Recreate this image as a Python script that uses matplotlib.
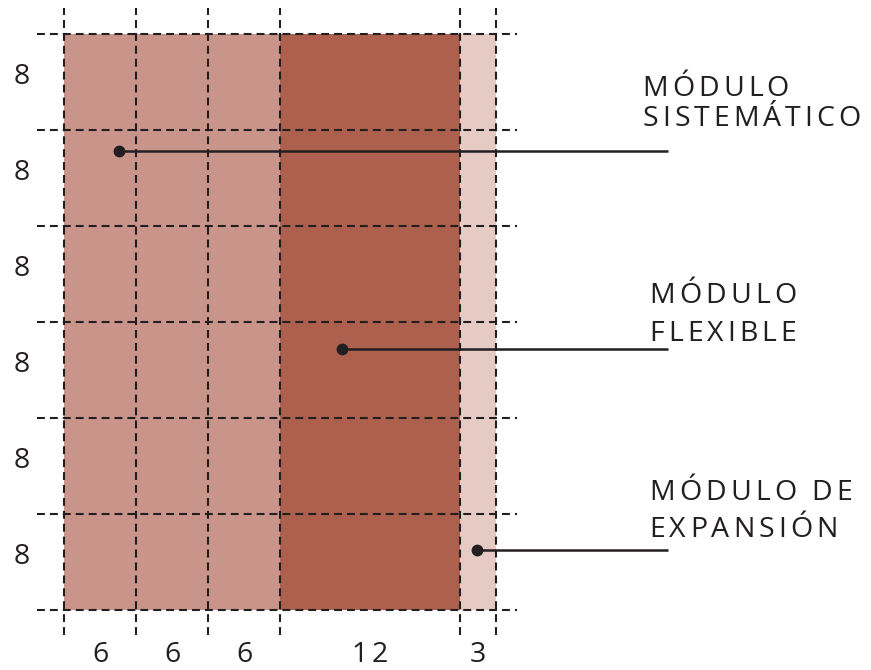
import matplotlib.pyplot as plt
from matplotlib.patches import Rectangle
from matplotlib.font_manager import FontProperties

# grid modules (units), 1 unit = 12 px on the sheet
col_labels = ['6', '6', '6', '12', '3']
col_widths = [6, 6, 6, 15, 3]      # drawn width; the 12 column is drawn wider
col_colors = ['#c9948a', '#c9948a', '#c9948a', '#ad604e', '#e6cbc5']
row_labels = ['8', '8', '8', '8', '8', '8']
row_heights = [8, 8, 8, 8, 8, 8]

# callouts: text lines, anchor dot (grid units)
callouts = [
    (['MÓDULO', 'SISTEMÁTICO'], (4.6, 38.25)),
    (['MÓDULO', 'FLEXIBLE'], (23.2, 21.75)),
    (['MÓDULO DE', 'EXPANSIÓN'], (34.4, 5.0)),
]
callout_text_x = [48.2, 48.8, 48.8]
callout_baselines = [(42.8, 40.3), (25.6, 22.45), (9.2, 6.1)]
callout_line_end = 50.35

FONT = 'Open Sans'
FSIZE = 20.5
TRACK = 4.0   # extra letter spacing, px
INK = '#231f20'

fig = plt.figure(figsize=(8.71, 6.70), dpi=100)
ax = fig.add_axes([0, 0, 1, 1])
ax.set_xlim(-64 / 12, (871 - 64) / 12)
ax.set_ylim(-60 / 12, 610 / 12)
ax.set_axis_off()

renderer = fig.canvas.get_renderer()
fp = FontProperties(family=FONT, size=FSIZE, weight='medium')


def width(s):
    w, h, d = renderer.get_text_width_height_descent(s, fp, ismath=False)
    return w


def tracked(x, y, s, ha='left'):
    x0, y0 = ax.transData.transform((x, y))
    total = width(s) + TRACK * (len(s) - 1)
    if ha == 'center':
        x0 -= total / 2
    inv = ax.transData.inverted()
    for i, ch in enumerate(s):
        if ch == ' ':
            continue
        px = x0 + width(s[:i + 1]) - width(ch) + i * TRACK
        xd, yd = inv.transform((px, y0))
        ax.text(xd, yd, ch, fontproperties=fp, color=INK,
                ha='left', va='baseline')


# column / row edges
xs = [0]
for w in col_widths:
    xs.append(xs[-1] + w)
ys = [0]
for h in row_heights:
    ys.append(ys[-1] + h)

for i, w in enumerate(col_widths):
    ax.add_patch(Rectangle((xs[i], 0), w, ys[-1], facecolor=col_colors[i],
                           edgecolor='none', zorder=1))

dash = dict(color=INK, lw=1.5, dashes=(3.8, 2.4), zorder=2)
for y in ys:
    ax.plot([-2.25, xs[-1] + 1.75], [y, y], **dash)
for x in xs:
    ax.plot([x, x], [-2.1, ys[-1] + 2.15], **dash)

# module sizes
for i, lab in enumerate(col_labels):
    tracked((xs[i] + xs[i + 1]) / 2, -4.33, lab, ha='center')
for i, lab in enumerate(row_labels):
    tracked(-3.5, ys[i] + 3.8, lab, ha='center')

# callouts
for (lines, (ax_, ay)), tx, bases in zip(callouts, callout_text_x, callout_baselines):
    ax.plot([ax_, callout_line_end], [ay, ay], color=INK, lw=1.8,
            solid_capstyle='butt', zorder=3)
    ax.plot([ax_], [ay], 'o', color=INK, ms=7.5, zorder=4)
    for line, b in zip(lines, bases):
        tracked(tx, b, line)

fig.savefig('out.png', dpi=100)
